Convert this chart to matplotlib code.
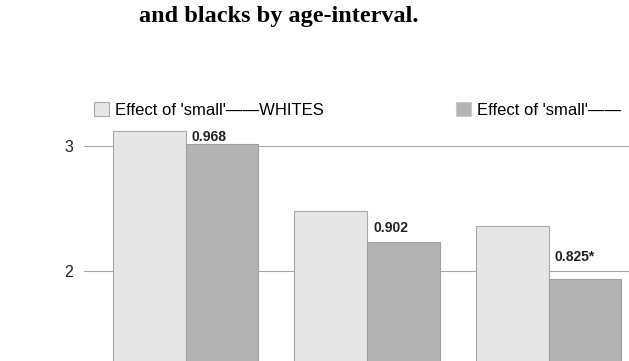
import numpy as np
import matplotlib.pyplot as plt
from matplotlib.patches import Patch

# Dados ----------------------------------------------------------
grupos = [0, 1, 2]
whites = [3.12, 2.48, 2.362]
blacks = [3.016, 2.234, 1.94]
rotulos = ["0.968", "0.902", "0.825*"]
rotulo_y = [3.074, 2.344, 2.114]   # altura dos rótulos (dados)
# a segunda entrada aparece cortada na borda da figura original
legenda = ["Effect of 'small'\u2014\u2014WHITES", "Effect of 'small'\u2014\u2014"]

W, H = 629, 361
fig = plt.figure(figsize=(W/100, H/100), dpi=100)
plt.rcParams['font.family'] = ['Liberation Sans', 'DejaVu Sans']

# Eixos: y=3 em 146px, y=2 em 271px (topo); 125 px por unidade
px_un = 125.0
y_top = 3.2
top_px = 146 - (y_top - 3) * px_un
alt = y_top * px_un
ax_left = 84
ax = fig.add_axes([ax_left/W, (H - top_px - alt)/H, (W - ax_left)/W, alt/H])

x = np.array(grupos, dtype=float)
larg = 0.402
xpx = 181.5
ax.set_xlim(-(185.5 - ax_left)/xpx, -(185.5 - ax_left)/xpx + (W - ax_left)/xpx)
ax.set_ylim(0, y_top)

ax.bar(x - larg/2, whites, larg, color="#e6e6e6", edgecolor="#a8a8a8", linewidth=0.8, zorder=2)
ax.bar(x + larg/2, blacks, larg, color="#b3b3b3", edgecolor="#a0a0a0", linewidth=0.8, zorder=2)

for xi, r, yr in zip(x, rotulos, rotulo_y):
    ax.text(xi + 0.035, yr, r, fontsize=10, fontweight='bold', color="#222222",
            ha='left', va='center', zorder=3)

# só os ticks visíveis no recorte
ax.set_yticks([2, 3])
ax.set_yticklabels(["2", "3"], fontsize=11.5, color="#222222")
ax.tick_params(axis='y', length=0, pad=8)
ax.set_xticks([])
ax.yaxis.grid(True, color="#a6a6a6", linewidth=0.8, zorder=0)
ax.set_axisbelow(True)
for s in ax.spines.values():
    s.set_visible(False)

# Legenda (duas entradas posicionadas separadamente)
cores_leg = [("#e6e6e6", "#a8a8a8"), ("#b3b3b3", "#c8c8c8")]
x_leg = [94, 456]
for (fc, ec), txt, xl in zip(cores_leg, legenda, x_leg):
    fig.legend([Patch(facecolor=fc, edgecolor=ec, linewidth=0.8)], [txt],
               loc='center left', bbox_to_anchor=(xl/W, 1 - 110/H), frameon=False,
               fontsize=12, handlelength=0.9, handleheight=0.9, handletextpad=0.35,
               borderpad=0, borderaxespad=0)

# Título (parte visível)
fig.text(278.5/W, 1 - 22/H, "and blacks by age-interval.", family=['Liberation Serif', 'DejaVu Serif'],
         fontweight='bold', fontsize=17.5, ha='center', va='baseline')

plt.savefig("out.png", dpi=100)
